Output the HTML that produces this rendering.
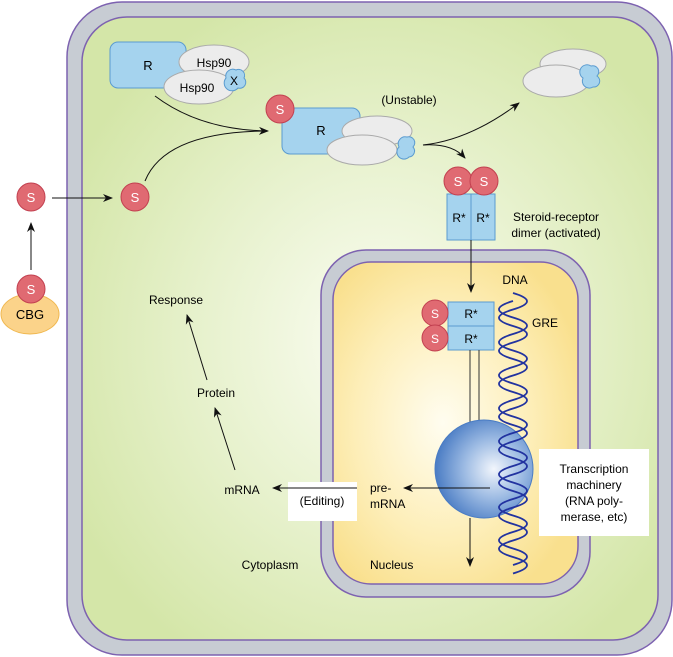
<!DOCTYPE html>
<html><head><meta charset="utf-8"><style>
html,body{margin:0;padding:0;background:#fff;}
svg{display:block;font-family:"Liberation Sans",Arial,sans-serif;}
</style></head><body>
<svg width="673" height="657" viewBox="0 0 673 657" xmlns="http://www.w3.org/2000/svg">
<defs>
<radialGradient id="cyto" cx="0.52" cy="0.52" r="0.6">
<stop offset="0" stop-color="#fbfdf3"/><stop offset="0.5" stop-color="#e8f2cf"/><stop offset="1" stop-color="#d4e6a8"/>
</radialGradient>
<radialGradient id="nuc" cx="0.45" cy="0.5" r="0.6">
<stop offset="0" stop-color="#fffdf0"/><stop offset="0.6" stop-color="#fdeeb8"/><stop offset="1" stop-color="#f9e08e"/>
</radialGradient>
<radialGradient id="ball" cx="0.6" cy="0.5" r="0.6">
<stop offset="0" stop-color="#f2f6fc"/><stop offset="0.5" stop-color="#9dbbe3"/><stop offset="1" stop-color="#4a7cc4"/>
</radialGradient>
<marker id="ah" markerWidth="10" markerHeight="8" refX="9" refY="4" orient="auto" markerUnits="userSpaceOnUse">
<path d="M0,0 L10,4 L0,8 L3,4 Z" fill="#111"/></marker>
</defs>
<!-- cell -->
<rect x="67" y="2" width="605" height="653" rx="55" fill="#c7ccd3" stroke="#7d62b0" stroke-width="1.5"/>
<rect x="82" y="17" width="576" height="623" rx="45" fill="url(#cyto)" stroke="#7d62b0" stroke-width="1.5"/>
<!-- nucleus -->
<rect x="321" y="250" width="269" height="347" rx="45" fill="#c7ccd3" stroke="#7d62b0" stroke-width="1.5"/>
<rect x="333" y="262" width="245" height="322" rx="38" fill="url(#nuc)" stroke="#7d62b0" stroke-width="1.5"/>

<!-- first complex -->
<rect x="110" y="42" width="76" height="46" rx="8" fill="#a5d3ee" stroke="#5a9bd0"/>
<text x="148" y="70" font-size="13" text-anchor="middle">R</text>
<ellipse cx="214" cy="62" rx="35" ry="17" fill="#ececec" stroke="#aaa"/>
<ellipse cx="199" cy="87" rx="35" ry="17" fill="#ececec" stroke="#aaa"/>
<text x="214" y="67" font-size="12" text-anchor="middle">Hsp90</text>
<text x="197" y="92" font-size="12" text-anchor="middle">Hsp90</text>
<path d="M226,78 a7,7 0 0 1 10,-8 a6,6 0 0 1 8,8 a6,6 0 0 1 -6,10 a7,7 0 0 1 -12,-10z" fill="#a5d3ee" stroke="#5a9bd0"/>
<text x="234" y="85" font-size="12" text-anchor="middle">X</text>
<path d="M155,96 Q200,130 268,131" fill="none" stroke="#111" marker-end="url(#ah)"/>
<path d="M145,181 Q165,132 266,131" fill="none" stroke="#111"/>

<!-- second complex -->
<rect x="282" y="108" width="78" height="46" rx="8" fill="#a5d3ee" stroke="#5a9bd0"/>
<text x="321" y="135" font-size="13" text-anchor="middle">R</text>
<ellipse cx="377" cy="131" rx="35" ry="15" fill="#ececec" stroke="#aaa"/>
<ellipse cx="362" cy="150" rx="35" ry="15" fill="#ececec" stroke="#aaa"/>
<path d="M399,147 a7,7 0 0 1 8,-10 a6,6 0 0 1 6,10 a6,6 0 0 1 -4,10 a7,7 0 0 1 -10,-10z" fill="#a5d3ee" stroke="#5a9bd0"/>
<circle cx="280" cy="109" r="14" fill="#e06a72" stroke="#c24050"/>
<text x="280" y="114" font-size="13" fill="#fff" text-anchor="middle">S</text>
<text x="409" y="104" font-size="12" text-anchor="middle">(Unstable)</text>
<path d="M423,145 Q470,140 519,103" fill="none" stroke="#111" marker-end="url(#ah)"/>
<path d="M423,145 Q452,143 465,158" fill="none" stroke="#111" marker-end="url(#ah)"/>

<!-- top right -->
<ellipse cx="573" cy="64" rx="33" ry="15" fill="#ececec" stroke="#aaa"/>
<ellipse cx="556" cy="81" rx="33" ry="16" fill="#ececec" stroke="#aaa"/>
<path d="M583,78 a7,7 0 0 1 8,-12 a6,6 0 0 1 6,10 a6,6 0 0 1 -4,11 a7,7 0 0 1 -10,-9z" fill="#a5d3ee" stroke="#5a9bd0"/>

<!-- dimer -->
<rect x="447" y="194" width="24" height="46" fill="#a5d3ee" stroke="#5a9bd0"/>
<rect x="471" y="194" width="24" height="46" fill="#a5d3ee" stroke="#5a9bd0"/>
<circle cx="458" cy="181" r="14" fill="#e06a72" stroke="#c24050"/>
<circle cx="484" cy="181" r="14" fill="#e06a72" stroke="#c24050"/>
<text x="458" y="186" font-size="13" fill="#fff" text-anchor="middle">S</text>
<text x="484" y="186" font-size="13" fill="#fff" text-anchor="middle">S</text>
<text x="459" y="222" font-size="12" text-anchor="middle">R*</text>
<text x="483" y="222" font-size="12" text-anchor="middle">R*</text>
<text x="556" y="221" font-size="12" text-anchor="middle">Steroid-receptor</text>
<text x="556" y="237" font-size="12" text-anchor="middle">dimer (activated)</text>
<line x1="471" y1="240" x2="471" y2="292" stroke="#111" marker-end="url(#ah)"/>

<!-- nucleus content -->
<text x="515" y="284" font-size="12" text-anchor="middle">DNA</text>
<text x="532" y="327" font-size="12">GRE</text>
<rect x="448" y="302" width="46" height="24" fill="#a5d3ee" stroke="#5a9bd0"/>
<rect x="448" y="326" width="46" height="24" fill="#a5d3ee" stroke="#5a9bd0"/>
<text x="471" y="318" font-size="12" text-anchor="middle">R*</text>
<text x="471" y="343" font-size="12" text-anchor="middle">R*</text>
<circle cx="435" cy="313" r="13" fill="#e06a72" stroke="#c24050"/>
<circle cx="435" cy="338" r="13" fill="#e06a72" stroke="#c24050"/>
<text x="435" y="318" font-size="12" fill="#fff" text-anchor="middle">S</text>
<text x="435" y="343" font-size="12" fill="#fff" text-anchor="middle">S</text>
<line x1="470" y1="350" x2="470" y2="425" stroke="#333"/>
<line x1="479" y1="350" x2="479" y2="425" stroke="#333"/>
<circle cx="484" cy="469" r="49" fill="url(#ball)" stroke="#4a7cc4"/>
<g fill="none" stroke="#2233a0" stroke-width="1.8">
<path d="M513,293 Q541,301.25 513,309.5 T513,326 T513,342.5 T513,359 T513,375.5 T513,392 T513,408.5 T513,425 T513,441.5 T513,458 T513,474.5 T513,491 T513,507.5 T513,524 T513,540.5 T513,557 T513,573.5"/>
<path d="M513,301 Q485,309.25 513,317.5 T513,334 T513,350.5 T513,367 T513,383.5 T513,400 T513,416.5 T513,433 T513,449.5 T513,466 T513,482.5 T513,499 T513,515.5 T513,532 T513,548.5 T513,565"/>
</g>
<line x1="470" y1="518" x2="470" y2="566" stroke="#111" marker-end="url(#ah)"/>
<line x1="490" y1="488" x2="404" y2="488" stroke="#111" marker-end="url(#ah)"/>
<text x="370" y="492" font-size="12">pre-</text>
<text x="370" y="508" font-size="12">mRNA</text>
<text x="370" y="569" font-size="12">Nucleus</text>
<rect x="539" y="449" width="110" height="87" fill="#fff"/>
<text x="594" y="473" font-size="12" text-anchor="middle">Transcription</text>
<text x="594" y="489" font-size="12" text-anchor="middle">machinery</text>
<text x="594" y="505" font-size="12" text-anchor="middle">(RNA poly-</text>
<text x="594" y="521" font-size="12" text-anchor="middle">merase, etc)</text>

<!-- cytoplasm -->
<rect x="288" y="482" width="69" height="39" fill="#fff"/>
<text x="322" y="505" font-size="12" text-anchor="middle">(Editing)</text>
<line x1="357" y1="488" x2="273" y2="488" stroke="#111" marker-end="url(#ah)"/>
<text x="242" y="494" font-size="12" text-anchor="middle">mRNA</text>
<text x="216" y="397" font-size="12" text-anchor="middle">Protein</text>
<text x="176" y="304" font-size="12" text-anchor="middle">Response</text>
<line x1="235" y1="470" x2="215" y2="408" stroke="#111" marker-end="url(#ah)"/>
<line x1="207" y1="380" x2="187" y2="315" stroke="#111" marker-end="url(#ah)"/>
<text x="270" y="569" font-size="12" text-anchor="middle">Cytoplasm</text>

<!-- S in cytoplasm -->
<circle cx="135" cy="197" r="14" fill="#e06a72" stroke="#c24050"/>
<text x="135" y="202" font-size="13" fill="#fff" text-anchor="middle">S</text>

<!-- outside -->
<circle cx="31" cy="197" r="14" fill="#e06a72" stroke="#c24050"/>
<text x="31" y="202" font-size="13" fill="#fff" text-anchor="middle">S</text>
<line x1="52" y1="198" x2="112" y2="198" stroke="#111" marker-end="url(#ah)"/>
<ellipse cx="30" cy="314" rx="29" ry="20" fill="#fbd38a" stroke="#f0b850"/>
<text x="30" y="319" font-size="13" text-anchor="middle">CBG</text>
<circle cx="31" cy="289" r="14" fill="#e06a72" stroke="#c24050"/>
<text x="31" y="294" font-size="13" fill="#fff" text-anchor="middle">S</text>
<line x1="31" y1="270" x2="31" y2="223" stroke="#111" marker-end="url(#ah)"/>
</svg>
</body></html>
